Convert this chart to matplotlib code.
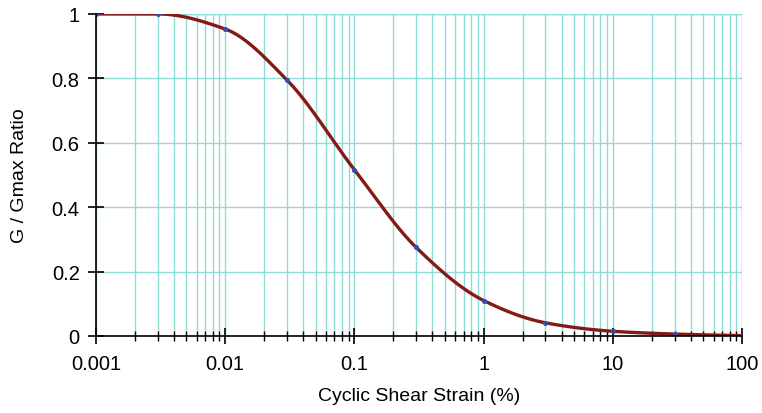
import numpy as np
import matplotlib
matplotlib.use("Agg")
import matplotlib.pyplot as plt
from matplotlib.ticker import LogLocator, FixedLocator, NullFormatter

strain = [0.001, 0.003, 0.01, 0.03, 0.1, 0.3, 1, 3, 10, 30, 100]
ratio = [1.0, 1.0, 0.953, 0.795, 0.516, 0.275, 0.110, 0.041, 0.0146, 0.006, 0.001]
x_ticks = [0.001, 0.01, 0.1, 1, 10, 100]
x_tick_labels = ["0.001", "0.01", "0.1", "1", "10", "100"]
y_ticks = [0, 0.2, 0.4, 0.6, 0.8, 1]
y_tick_labels = ["0", "0.2", "0.4", "0.6", "0.8", "1"]

plt.rcParams['font.family'] = ['Liberation Sans', 'DejaVu Sans']

def pchip(x, y, xn):
    x = np.asarray(x, float); y = np.asarray(y, float)
    h = np.diff(x); d = np.diff(y) / h
    m = np.zeros_like(y)
    for k in range(1, len(x) - 1):
        if d[k-1] * d[k] <= 0:
            m[k] = 0
        else:
            w1 = 2*h[k] + h[k-1]; w2 = h[k] + 2*h[k-1]
            m[k] = (w1 + w2) / (w1/d[k-1] + w2/d[k])
    m[0] = d[0]; m[-1] = d[-1]
    idx = np.clip(np.searchsorted(x, xn) - 1, 0, len(x) - 2)
    t = (xn - x[idx]) / h[idx]
    h00 = 2*t**3 - 3*t**2 + 1; h10 = t**3 - 2*t**2 + t
    h01 = -2*t**3 + 3*t**2; h11 = t**3 - t**2
    return h00*y[idx] + h10*h[idx]*m[idx] + h01*y[idx+1] + h11*h[idx]*m[idx+1]

lx = np.log10(strain)
xs = np.linspace(lx[0], lx[-1], 600)
ys = pchip(lx, ratio, xs)

fig = plt.figure(figsize=(7.62, 4.14), dpi=100)
ax = fig.add_axes([0.126, 0.186, 0.848, 0.778])
ax.set_xscale('log')
ax.set_xlim(0.001, 100)
ax.set_ylim(0, 1)

gc = '#8fdcd6'
ax.grid(True, which='both', axis='x', color=gc, linewidth=1.0)
ax.grid(True, which='major', axis='y', color=gc, linewidth=1.0)
ax.axhline(1, color=gc, lw=1.0, zorder=1)
ax.axvline(100, color=gc, lw=1.0, zorder=1)

ax.plot(10**xs, ys, color='#841a15', lw=2.4, zorder=3, solid_capstyle='round')
ax.plot(strain, ratio, ls='none', marker='o', ms=2.6, color='#2f4fb5', zorder=4)

ax.xaxis.set_major_locator(FixedLocator(x_ticks))
ax.set_xticklabels(x_tick_labels)
ax.xaxis.set_minor_locator(LogLocator(base=10, subs=np.arange(2, 10)))
ax.xaxis.set_minor_formatter(NullFormatter())
ax.set_yticks(y_ticks)
ax.set_yticklabels(y_tick_labels)

for s in ['top', 'right']:
    ax.spines[s].set_visible(False)
for s in ['left', 'bottom']:
    ax.spines[s].set_color('black')
    ax.spines[s].set_linewidth(1.2)
    ax.spines[s].set_zorder(5)

ax.tick_params(axis='both', which='major', direction='inout', length=11.5, width=1.2, labelsize=14.5, colors='black')
ax.tick_params(axis='x', which='minor', direction='inout', length=6.5, width=1.0)
ax.tick_params(axis='x', which='major', pad=7.5)
ax.tick_params(axis='y', which='major', pad=6)

ax.set_xlabel('Cyclic Shear Strain (%)', fontsize=14, labelpad=10)
ax.set_ylabel('G / Gmax Ratio', fontsize=14, labelpad=17)

fig.savefig('out.png', dpi=100)
